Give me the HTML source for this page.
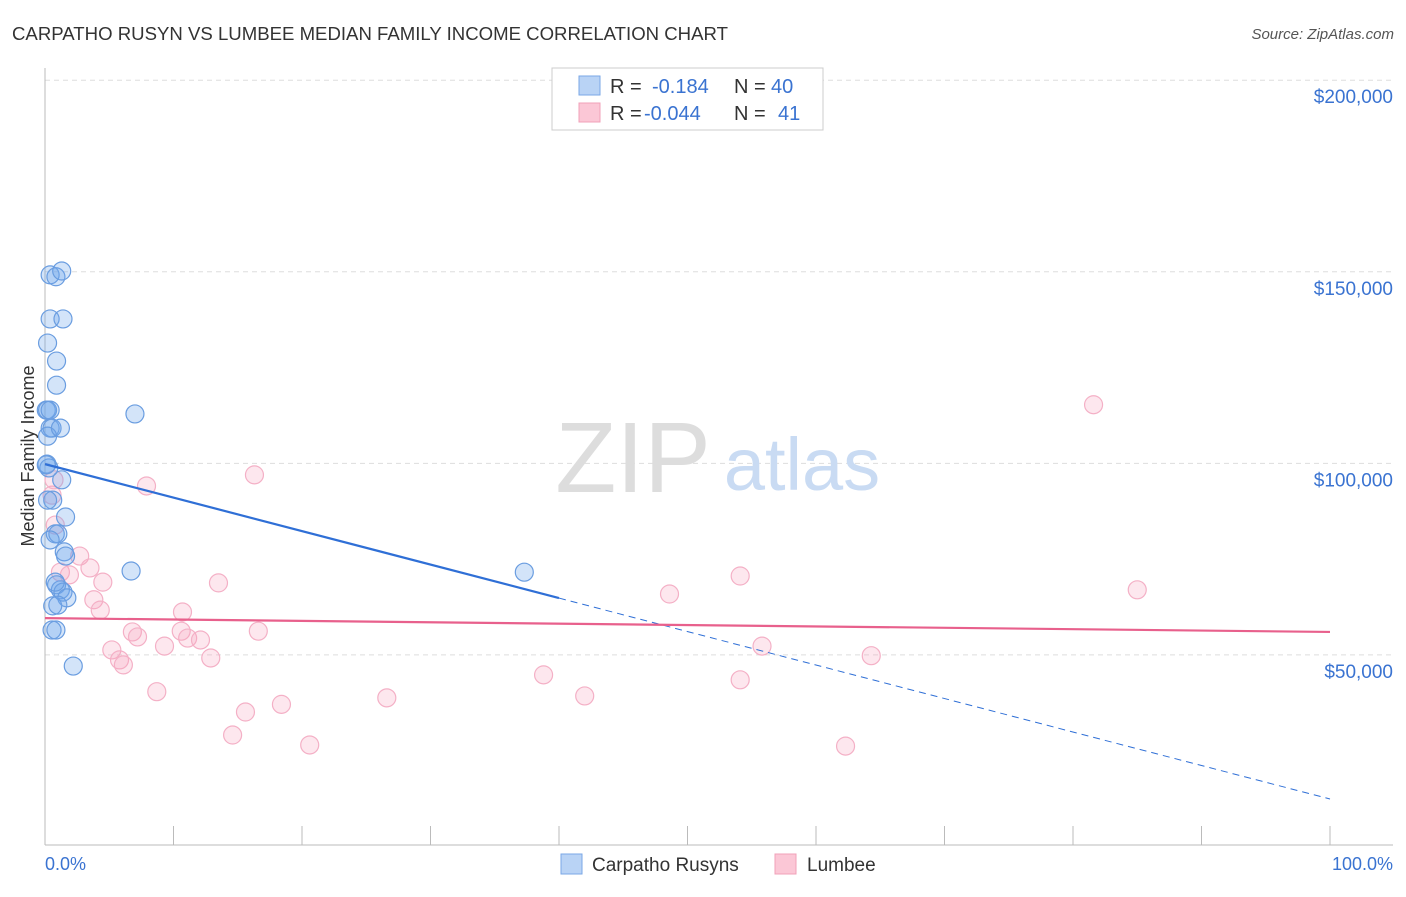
<!DOCTYPE html>
<html><head><meta charset="utf-8"><style>
body{margin:0;background:#fff;font-family:"Liberation Sans",sans-serif}
svg text{font-family:"Liberation Sans",sans-serif}
</style></head><body>
<svg width="1406" height="892">
<text x="12" y="40" font-size="18.6" fill="#333">CARPATHO RUSYN VS LUMBEE MEDIAN FAMILY INCOME CORRELATION CHART</text>
<text x="1394" y="39" font-size="15" font-style="italic" fill="#555" text-anchor="end">Source: ZipAtlas.com</text>
<g id="grid"></g>
<text x="633" y="492" font-size="100" font-family="Liberation Serif" fill="#ddd" text-anchor="middle">ZIP</text>
<text x="802" y="490" font-size="74" fill="#c9dbf3" text-anchor="middle">atlas</text>
<text transform="translate(34,456) rotate(-90)" font-size="18" fill="#333" text-anchor="middle">Median Family Income</text>
<g id="marks"></g>
<g>
<rect x="552" y="68" width="271" height="62" fill="#fff" stroke="#ccc"/>
<rect x="579" y="76" width="21" height="19" fill="#b9d3f5" stroke="#7aa7e6"/>
<rect x="579" y="103" width="21" height="19" fill="#fbc7d6" stroke="#f0a0b8"/>
<text x="610" y="93" font-size="20" fill="#333">R = <tspan fill="#3a73d1" x="652">-0.184</tspan><tspan x="734" fill="#333">N = </tspan><tspan fill="#3a73d1" x="771">40</tspan></text>
<text x="610" y="120" font-size="20" fill="#333">R = <tspan fill="#3a73d1" x="644">-0.044</tspan><tspan x="734" fill="#333">N = </tspan><tspan fill="#3a73d1" x="778">41</tspan></text>
</g>
<text x="45" y="870" font-size="18" fill="#3a73d1">0.0%</text>
<text x="1393" y="870" font-size="18" fill="#3a73d1" text-anchor="end">100.0%</text>
<rect x="561" y="854" width="21" height="20" fill="#b9d3f5" stroke="#7aa7e6"/>
<text x="592" y="871" font-size="19" fill="#333">Carpatho Rusyns</text>
<rect x="775" y="854" width="21" height="20" fill="#fbc7d6" stroke="#f0a0b8"/>
<text x="807" y="871" font-size="19" fill="#333">Lumbee</text>
</svg>
<script>
const yTicks=[50000,100000,150000,200000];
const yTickLabels=["$50,000","$100,000","$150,000","$200,000"];
const blueX=[0.4,0.85,1.3,0.4,1.4,0.2,0.9,0.9,0.1,0.2,0.4,0.55,0.2,7.0,0.15,0.3,1.3,0.6,1.6,0.8,1.0,1.5,1.6,6.7,0.9,1.2,1.4,1.7,0.6,0.55,0.85,2.2,37.3,0.1,0.2,0.4,0.8,1.0,0.4,1.2];
const blueY=[149.2,148.7,150.2,137.7,137.7,131.4,126.7,120.4,113.9,113.9,109.2,109.2,107.1,112.9,99.8,98.8,95.7,90.4,86.0,81.6,81.6,76.9,75.8,71.9,68.3,67.0,66.4,64.9,62.8,56.5,56.5,47.1,71.6,99.6,90.4,80.0,69.0,63.0,113.9,109.2];
const pinkX=[0.55,0.8,1.2,1.9,2.7,3.5,4.5,3.8,4.3,5.2,5.8,6.1,6.8,7.2,8.7,7.9,9.3,10.7,10.6,11.1,12.1,12.9,13.5,14.6,15.6,16.3,16.6,18.4,20.6,26.6,38.8,42.0,48.6,54.1,54.1,55.8,62.3,64.3,81.6,85.0,0.7];
const pinkY=[91.7,83.9,71.6,70.9,75.8,72.7,69.0,64.4,61.7,51.3,48.7,47.4,56.0,54.7,40.4,94.1,52.3,61.2,56.2,54.4,53.9,49.2,68.8,29.1,35.1,97.0,56.2,37.1,26.5,38.8,44.8,39.3,65.9,70.6,43.5,52.3,26.2,49.8,115.3,67.0,95.7];
const blueTrend=[99.8,12.4];
const blueSolidEnd=40;
const pinkTrend=[59.6,56.0];
const NS="http://www.w3.org/2000/svg";
const X=p=>45+p*12.85;
function yPix(k){return 846.5-k*1000/261;}
function mk(tag,attrs,parent){const e=document.createElementNS(NS,tag);for(const k in attrs)e.setAttribute(k,attrs[k]);parent.appendChild(e);return e;}
const grid=document.getElementById('grid'),marks=document.getElementById('marks');
yTicks.forEach((t,i)=>{const y=yPix(t/1000);
 const l=mk('line',{x1:45,x2:1393,y1:y,y2:y,stroke:'#ddd','stroke-dasharray':'5,4'},grid);
 
 
 const tx=mk('text',{x:1393,y:y+23,'font-size':19,fill:'#3a73d1','text-anchor':'end'},grid);tx.textContent=yTickLabels[i];
 
 
});
mk('line',{x1:45,x2:45,y1:68,y2:845,stroke:'#bbb'},grid);
mk('line',{x1:45,x2:1393,y1:845,y2:845,stroke:'#bbb'},grid);
for(let i=0;i<=10;i++){const x=X(i*10);const t=mk('line',{x1:x,x2:x,y1:826,y2:845,stroke:'#bbb'},grid);
 
 }
pinkX.forEach((p,i)=>{const c=mk('circle',{cx:X(p),cy:yPix(pinkY[i]),r:9,fill:'rgba(246,160,188,0.25)',stroke:'#f4b0c6','stroke-width':1.2},marks);
 
 });
blueX.forEach((p,i)=>{const c=mk('circle',{cx:X(p),cy:yPix(blueY[i]),r:9,fill:'rgba(110,165,235,0.3)',stroke:'#6a9de0','stroke-width':1.2},marks);
 
 });
const bAt=p=>blueTrend[0]+(blueTrend[1]-blueTrend[0])*p/100;
const b1=mk('line',{x1:X(0),y1:yPix(bAt(0)),x2:X(blueSolidEnd),y2:yPix(bAt(blueSolidEnd)),stroke:'#2f6fd6','stroke-width':2.2},marks);


const b2=mk('line',{x1:X(blueSolidEnd),y1:yPix(bAt(blueSolidEnd)),x2:X(100),y2:yPix(bAt(100)),stroke:'#2f6fd6','stroke-width':1,'stroke-dasharray':'7,5'},marks);


const p1=mk('line',{x1:X(0),y1:yPix(pinkTrend[0]),x2:X(100),y2:yPix(pinkTrend[1]),stroke:'#e8608c','stroke-width':2.2},marks);


</script>
</body></html>
